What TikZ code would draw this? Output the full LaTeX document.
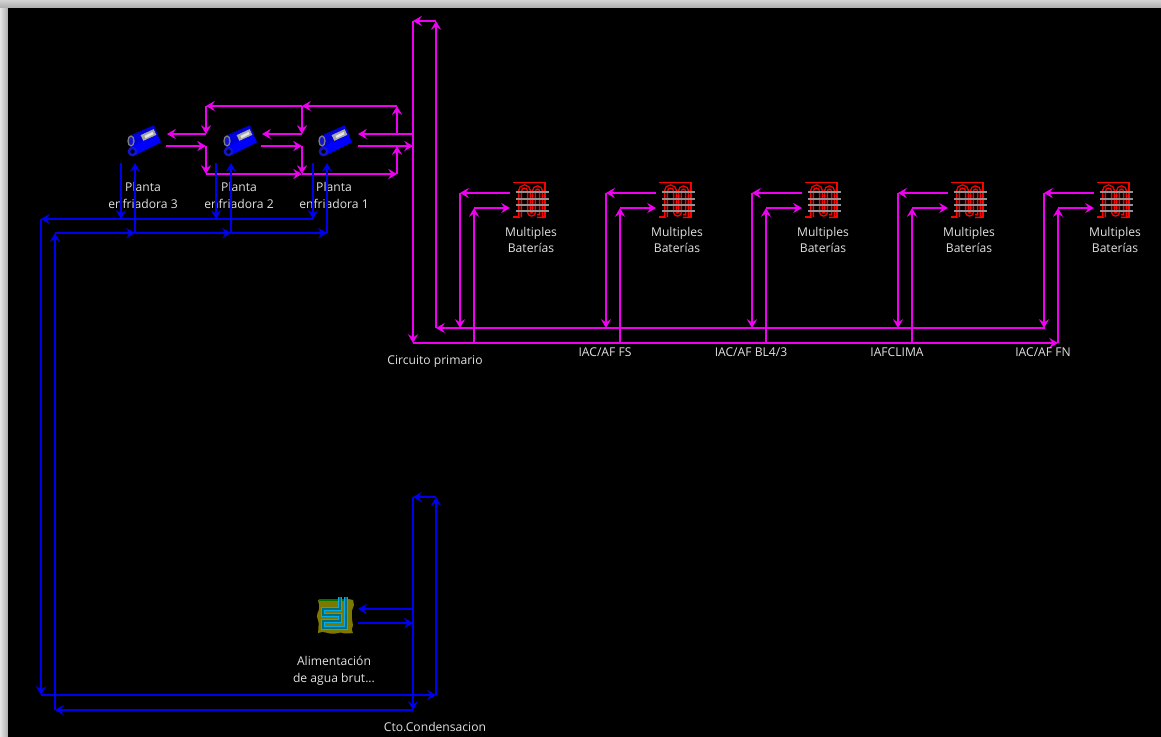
\documentclass[tikz,border=0pt]{standalone}
\usepackage{fontspec}
\setmainfont{Open Sans}
\usetikzlibrary{arrows.meta,decorations.pathmorphing}
\definecolor{pipepink}{RGB}{240,0,240}
\definecolor{pipeblue}{RGB}{0,0,240}
\definecolor{labelgrey}{RGB}{225,225,225}
\definecolor{ringblue}{RGB}{20,20,200}
\definecolor{olivefill}{RGB}{125,120,0}
\definecolor{tubefill}{RGB}{0,110,120}
\tikzset{
  pipe/.style={line width=0.7pt, -{Stealth[length=5pt, width=5.8pt, inset=1.8pt]}},
  pink/.style={pipepink},
  cond/.style={pipeblue},
  lbl/.style={text=labelgrey, font=\fontsize{6.9}{9.6}\selectfont, align=center, inner sep=0pt},
}
% chiller drawing, origin at the middle of the icon
\newcommand{\chillericon}[2]{%
\begin{scope}[shift={(#1, #2)}]
\draw [line width=5.4pt, color=blue] (-10,10)--(16,-3);
\draw [line width=6pt, color=blue!85!black] (-12,0)--(13,-11);
\draw [line width=3.6pt, color=gray!70] (-1,-3)--(12,-9);
\draw [line width=1.4pt, color=white!80!gray] (2,-4)--(10,-8);
\draw [line width=0.7pt, color=gray, fill=ringblue] (-12,0) ellipse (3 and 5);
\draw [line width=1.4pt, color=ringblue, fill=black] (-10.5,10.5) circle (3.6);
\end{scope}
}
% coil drawing, origin at the top left corner
\newcommand{\coilicon}[2]{%
\begin{scope}[shift={(#1, #2)}]
\draw [line width=1.1pt, color=red] (0,0.5)--(32,0.5)--(32,35)--(24,35) (0,35)--(7,35);
\draw [line width=0.8pt, color=red, double=black, double distance=0.8pt]
  (7,35)--(7,9) arc (180:360:4.5)--(16,30) arc (180:0:2.5)--(21,9) arc (180:360:3.5)--(28,34)--(24,34);
\foreach \barY in {10,17,23,29} {
  \draw [line width=1.1pt, color=gray!85] (2.5,\barY)--(36,\barY);
}
\end{scope}
}
\begin{document}
\begin{tikzpicture}[x=0.02cm, y=-0.02cm]
\useasboundingbox (0,0) rectangle (1161,737);
\fill [color=gray!60] (0,0) rectangle (1161,737);
\shade [top color=gray!35, bottom color=gray!65] (0,0) rectangle (1161,8);
\shade [left color=gray!20, right color=gray!65] (0,8) rectangle (8,737);
\fill [color=black] (8,8) rectangle (1161,737);

% primary circuit
\coordinate (pTopL) at (413,21);
\coordinate (pTopR) at (436,21);
\coordinate (pBotL) at (413,343);
\coordinate (pBotR) at (436,328);
\coordinate (pEndA) at (1045,328);
\coordinate (pEndB) at (1058,343);
\draw [pipe, pink] (pBotR)--(pTopR);
\draw [pipe, pink] (pTopR)--(pTopL);
\draw [pipe, pink] (pTopL)--(pBotL);
\draw [pipe, pink] (pEndA)--(pBotR);
\draw [pipe, pink] (pBotL)--(pEndB);

% batteries
\foreach \i/\x in {0/0, 1/146, 2/292, 3/438, 4/584} {
  \coilicon{513+\x}{182}
  \coordinate (out\i) at (510+\x,193);
  \coordinate (in\i) at (510+\x,208);
  \coordinate (ret\i) at (460+\x,193);
  \coordinate (sup\i) at (474+\x,208);
  \coordinate (retB\i) at (460+\x,328);
  \coordinate (supB\i) at (474+\x,343);
  \draw [pipe, pink] (out\i)--(ret\i);
  \draw [pipe, pink] (ret\i)--(retB\i);
  \draw [pipe, pink] (supB\i)--(sup\i);
  \draw [pipe, pink] (sup\i)--(in\i);
  \node [lbl] (bat\i) at (531+\x,240) {Multiples\\Baterías};
}
\node [lbl] (lblPrim) at (435,362) {Circuito primario};
\node [lbl] (lblFS) at (605,352) {IAC/AF FS};
\node [lbl] (lblBL) at (751,352) {IAC/AF BL4/3};
\node [lbl] (lblCL) at (897,352) {IAFCLIMA};
\node [lbl] (lblFN) at (1043,352) {IAC/AF FN};

% chillers
\foreach \i/\x in {3/143, 2/239, 1/334} {
  \chillericon{\x}{141}
  \node [lbl] (plant\i) at (\x,195.5) {Planta\\enfriadora \i};
}
\coordinate (t3) at (206,106);
\coordinate (t2) at (302,106);
\coordinate (t1) at (397,106);
\coordinate (b3) at (206,174);
\coordinate (b2) at (302,174);
\coordinate (b1) at (397,174);
\coordinate (r3) at (206,134);
\coordinate (r2) at (302,134);
\coordinate (r1) at (397,134);
\coordinate (s3) at (206,146);
\coordinate (s2) at (302,146);
\coordinate (s1) at (397,146);
\coordinate (rMain) at (413,134);
\coordinate (sMain) at (413,146);
\draw [pipe, pink] (r3)--(167,134);
\draw [pipe, pink] (r2)--(262,134);
\draw [pipe, pink] (rMain)--(358,134);
\draw [pipe, pink] (166,146)--(s3);
\draw [pipe, pink] (261,146)--(s2);
\draw [pipe, pink] (358,146)--(sMain);
\draw [pipe, pink] (t3)--(r3);
\draw [pipe, pink] (t2)--(r2);
\draw [pipe, pink] (s3)--(b3);
\draw [pipe, pink] (s2)--(b2);
\draw [pipe, pink] (b3)--(b2);
\draw [pipe, pink] (b2)--(b1);
\draw [pipe, pink] (b1)--(s1);
\draw [pipe, pink] (r1)--(t1);
\draw [pipe, pink] (t1)--(t2);
\draw [pipe, pink] (t2)--(t3);

% condenser circuit
\coordinate (cTopL) at (413,497);
\coordinate (cTopR) at (436,497);
\coordinate (cBotL) at (413,710);
\coordinate (cBotR) at (436,695);
\coordinate (cRetL) at (41,219);
\coordinate (cRetB) at (41,695);
\coordinate (cSupL) at (55,233);
\coordinate (cSupB) at (55,710);
\draw [pipe, cond] (cBotR)--(cTopR);
\draw [pipe, cond] (cTopR)--(cTopL);
\draw [pipe, cond] (cTopL)--(cBotL);
\draw [pipe, cond] (cBotL)--(cSupB);
\draw [pipe, cond] (cSupB)--(cSupL);
\draw [pipe, cond] (cRetL)--(cRetB);
\draw [pipe, cond] (cRetB)--(cBotR);
\foreach \i/\x/\y in {3/121/135, 2/216/231, 1/313/327} {
  \coordinate (cr\i) at (\x,219);
  \coordinate (cs\i) at (\y,233);
  \draw [pipe, cond] (\x,163)--(cr\i);
  \draw [pipe, cond] (cs\i)--(\y,163);
}
\draw [pipe, cond] (cr1)--(cRetL);
\draw [pipe, cond] (cSupL)--(cs3);
\draw [pipe, cond] (cs3)--(cs2);
\draw [pipe, cond] (cs2)--(cs1);

% raw water supply
\fill [color=olivefill, decorate, decoration={random steps, segment length=2.5pt, amplitude=0.7pt}] (318,600) rectangle (353,633);
\draw [line width=0.9pt, color=green!45!black] (319,600)--(345,600);
\draw [line width=0.65pt, color=cyan, double=tubefill, double distance=0.7pt]
  (346,597)--(346,628)--(323,628)--(323,621)--(340,621)--(340,615)--(323,615)--(323,609)--(340,609)--(340,597);
\coordinate (wRet) at (413,609);
\coordinate (wSup) at (413,623);
\draw [pipe, cond] (wRet)--(358,609);
\draw [pipe, cond] (358,623)--(wSup);
\node [lbl] (water) at (334,671) {Alimentación\\de agua brut...};
\node [lbl] (lblCond) at (435,727) {Cto.Condensacion};
\end{tikzpicture}
\end{document}
